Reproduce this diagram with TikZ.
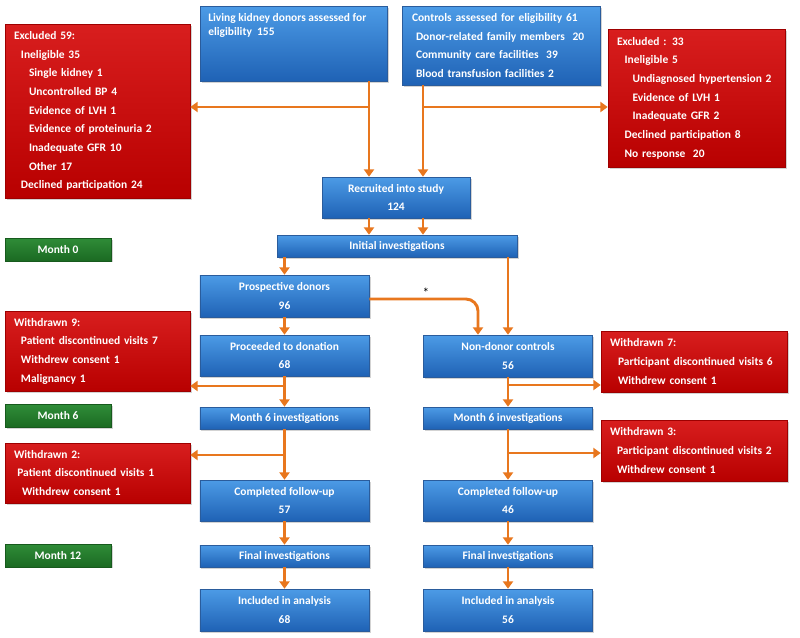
\documentclass[tikz,border=0pt]{standalone}
\usepackage{fontspec}
\setmainfont{Carlito}
\usetikzlibrary{arrows.meta,shadows}

\definecolor{flowor}{HTML}{E8771E}
\definecolor{blueT}{HTML}{4C9BE6}
\definecolor{blueB}{HTML}{1F62B5}
\definecolor{blueD}{HTML}{2A5C9C}
\definecolor{redT}{HTML}{D81E1E}
\definecolor{redB}{HTML}{B80000}
\definecolor{redD}{HTML}{9E0000}
\definecolor{greenT}{HTML}{2F8C38}
\definecolor{greenB}{HTML}{1B6A22}
\definecolor{greenD}{HTML}{175A1D}

\tikzset{
  chartbox/.style={rectangle, inner sep=0pt, text=white,
    font=\bfseries\fontsize{8.6}{14}\selectfont,
    drop shadow={opacity=0.35, shadow xshift=1.2pt, shadow yshift=-1.2pt}},
  bluebox/.style={chartbox, top color=blueT, bottom color=blueB, draw=blueD,
    align=center, minimum width=127pt},
  redbox/.style={chartbox, top color=redT, bottom color=redB, draw=redD,
    align=left, inner xsep=6.75pt},
  monthbox/.style={chartbox, top color=greenT, bottom color=greenB, draw=greenD,
    minimum width=79.5pt, minimum height=17pt},
  flow/.style={draw=flowor, line width=2.2pt, -{Triangle[width=7.5pt,length=5.5pt]}},
}

\begin{document}
\begin{tikzpicture}[x=0.75pt,y=-0.75pt]
\useasboundingbox (0,0) rectangle (800,637);

% Screening
\node[bluebox, minimum width=140.25pt, minimum height=56.25pt] (living) at (293.5,43.5) {};
\node[anchor=north west, inner sep=0pt, text=white, align=left,
  font=\bfseries\fontsize{8.6}{10.5}\selectfont] (livingtext) at (208,13)
  {Living kidney donors assessed for\\eligibility\ \ 155};
\node[bluebox, align=left, text width=133.5pt, inner xsep=7.5pt, minimum height=59.25pt] (controls) at (501,45.5)
  {Controls assessed for eligibility 61\\
   \hspace*{3pt}Donor-related family members\ \ 20\\
   \hspace*{3pt}Community care facilities\ \ 39\\
   \hspace*{3pt}Blood transfusion facilities 2};
\node[redbox, text width=125.25pt, minimum height=130.5pt] (excl59) at (97.5,111)
  {Excluded 59:\\
   \hspace*{5.25pt}Ineligible 35\\
   \hspace*{11.25pt}Single kidney 1\\
   \hspace*{11.25pt}Uncontrolled BP 4\\
   \hspace*{11.25pt}Evidence of LVH 1\\
   \hspace*{11.25pt}Evidence of proteinuria 2\\
   \hspace*{11.25pt}Inadequate GFR 10\\
   \hspace*{11.25pt}Other 17\\
   \hspace*{5.25pt}Declined participation 24};
\node[redbox, text width=119.25pt, minimum height=103.5pt] (excl33) at (696.5,98)
  {Excluded : 33\\
   \hspace*{5.75pt}Ineligible 5\\
   \hspace*{11.75pt}Undiagnosed hypertension 2\\
   \hspace*{11.75pt}Evidence of LVH 1\\
   \hspace*{11.75pt}Inadequate GFR 2\\
   \hspace*{5.75pt}Declined participation 8\\
   \hspace*{5.75pt}No response\ \ 20};
\node[bluebox, minimum width=111pt, minimum height=30.75pt] (recruited) at (396,197.5)
  {Recruited into study\\124};
\node[bluebox, minimum width=180pt, minimum height=16.5pt] (initial) at (397,246)
  {Initial investigations};

% Time points
\node[monthbox] (month0) at (58,249.5) {Month 0};
\node[monthbox] (month6) at (58,416) {Month 6};
\node[monthbox] (month12) at (58,555.5) {Month 12};

% Donor arm
\node[bluebox, minimum height=31.5pt] (prosp) at (284.5,296) {Prospective donors\\96};
\node[bluebox, minimum height=30.75pt] (proceeded) at (284.5,355.5) {Proceeded to donation\\68};
\node[bluebox, minimum height=16.5pt] (sixl) at (284.5,418) {Month 6 investigations};
\node[bluebox, minimum height=30.75pt] (compl) at (284.5,500.5) {Completed follow-up\\57};
\node[bluebox, minimum height=16.5pt] (finl) at (284.5,556) {Final investigations};
\node[bluebox, minimum height=31.5pt] (incl) at (284.5,610) {Included in analysis\\68};
\node[redbox, text width=125.25pt, minimum height=60pt] (withdrawn9) at (97.5,351)
  {Withdrawn 9:\\
   \hspace*{5.25pt}Patient discontinued visits 7\\
   \hspace*{5.25pt}Withdrew consent 1\\
   \hspace*{5.25pt}Malignancy 1};
\node[redbox, text width=125.25pt, minimum height=45pt] (withdrawn2) at (97.5,473)
  {Withdrawn 2:\\
   \hspace*{2.5pt}Patient discontinued visits 1\\
   \hspace*{6pt}Withdrew consent 1};

% Control arm
\node[bluebox, minimum height=31.5pt] (nondonor) at (508,356) {Non-donor controls\\56};
\node[bluebox, minimum height=16.5pt] (sixr) at (508,418) {Month 6 investigations};
\node[bluebox, minimum height=30.75pt] (compr) at (508,500.5) {Completed follow-up\\46};
\node[bluebox, minimum height=16.5pt] (finr) at (508,556) {Final investigations};
\node[bluebox, minimum height=31.5pt] (incr) at (508,610) {Included in analysis\\56};
\node[redbox, text width=126pt, minimum height=45.75pt] (withdrawn7) at (694,361.5)
  {Withdrawn 7:\\
   \hspace*{6pt}Participant discontinued visits 6\\
   \hspace*{6pt}Withdrew consent 1};
\node[redbox, text width=126pt, minimum height=45.75pt] (withdrawn3) at (694,450.5)
  {Withdrawn 3:\\
   \hspace*{5.25pt}Participant discontinued visits 2\\
   \hspace*{5.25pt}Withdrew consent 1};
\node[inner sep=0pt, font=\normalsize] (star) at (426,293) {*};

% Flow
\coordinate (dl) at (369,107);
\coordinate (cl) at (423,107);
\coordinate (pd) at (369,299);
\coordinate (bend) at (478,299);
\coordinate (w9) at (285,386);
\coordinate (w7) at (508,385);
\coordinate (w2) at (285,455);
\coordinate (w3) at (508,453);

\draw[flow] (dl |- living.south) -- (dl |- recruited.north);
\draw[flow] (dl) -- (dl -| excl59.east);
\draw[flow] (cl |- controls.south) -- (cl |- recruited.north);
\draw[flow] (cl) -- (cl -| excl33.west);
\draw[flow] (dl |- recruited.south) -- (dl |- initial.north);
\draw[flow] (cl |- recruited.south) -- (cl |- initial.north);
\draw[flow] (prosp.north |- initial.south) -- (prosp.north);
\draw[flow] (nondonor.north |- initial.south) -- (nondonor.north);
\draw[flow, rounded corners=9pt] (prosp.east |- pd) -| (bend |- nondonor.north);

\draw[flow] (prosp) -- (proceeded);
\draw[flow] (proceeded) -- (sixl);
\draw[flow] (w9) -- (w9 -| withdrawn9.east);
\draw[flow] (sixl) -- (compl);
\draw[flow] (w2) -- (w2 -| withdrawn2.east);
\draw[flow] (compl) -- (finl);
\draw[flow] (finl) -- (incl);

\draw[flow] (nondonor) -- (sixr);
\draw[flow] (w7) -- (w7 -| withdrawn7.west);
\draw[flow] (sixr) -- (compr);
\draw[flow] (w3) -- (w3 -| withdrawn3.west);
\draw[flow] (compr) -- (finr);
\draw[flow] (finr) -- (incr);
\end{tikzpicture}
\end{document}
